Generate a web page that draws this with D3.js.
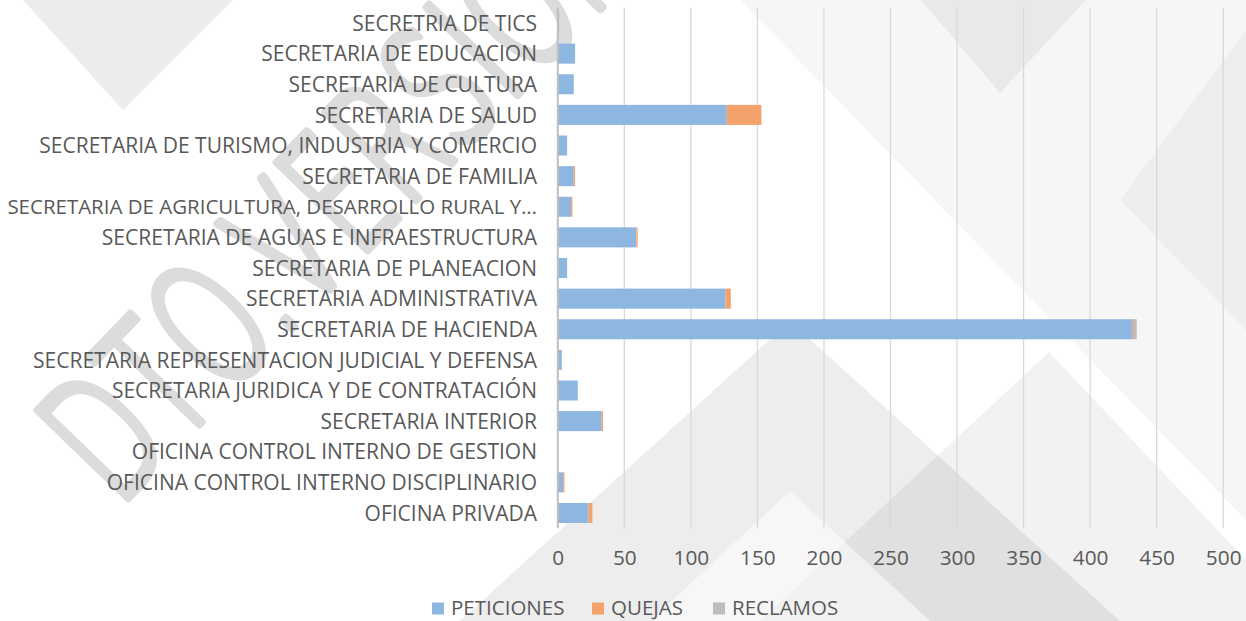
<!DOCTYPE html>
<html><head><meta charset="utf-8">
<script src="https://cdn.jsdelivr.net/npm/d3@7"></script>
<style>
html,body{margin:0;padding:0;background:#fff;}
svg{display:block;}
</style></head>
<body>
<svg id="chart" width="1246" height="621"></svg>
<script>
const categories = [
  "SECRETRIA DE TICS",
  "SECRETARIA DE EDUCACION",
  "SECRETARIA DE CULTURA",
  "SECRETARIA DE SALUD",
  "SECRETARIA DE TURISMO, INDUSTRIA Y COMERCIO",
  "SECRETARIA DE FAMILIA",
  "SECRETARIA DE AGRICULTURA, DESARROLLO RURAL Y…",
  "SECRETARIA DE AGUAS E INFRAESTRUCTURA",
  "SECRETARIA DE PLANEACION",
  "SECRETARIA ADMINISTRATIVA",
  "SECRETARIA DE HACIENDA",
  "SECRETARIA REPRESENTACION JUDICIAL Y DEFENSA",
  "SECRETARIA JURIDICA Y DE CONTRATACIÓN",
  "SECRETARIA INTERIOR",
  "OFICINA CONTROL INTERNO DE GESTION",
  "OFICINA CONTROL INTERNO DISCIPLINARIO",
  "OFICINA PRIVADA"
];
const peticiones = [1, 13, 12, 127, 7, 12, 10, 59, 7, 126, 432, 3, 15, 33, 0, 4, 23];
const quejas     = [0, 0, 0, 26, 0, 1, 1, 1, 0, 4, 1, 0, 0, 1, 0, 1, 3];
const reclamos   = [0, 0, 0, 0, 0, 0, 0, 0, 0, 0, 2, 0, 0, 0, 0, 0, 0];
const seriesNames = ["PETICIONES", "QUEJAS", "RECLAMOS"];
const seriesColors = ["#8DB6E1", "#F3A26C", "#BDBDBD"];
const xTicks = [0, 50, 100, 150, 200, 250, 300, 350, 400, 450, 500];

const svg = d3.select("#chart");
const FONT = "'Open Sans', 'Noto Sans', sans-serif";
const TXT = "#595959";

// decorative watermark background
const bg = svg.append("g");
const shapes = [
  {pts:[[23,0],[233,0],[123,110]], f:"#000", o:0.075},
  {pts:[[740,0],[1246,0],[1246,520]], f:"#000", o:0.035},
  {pts:[[921,0],[1086,0],[1000,93]], f:"#000", o:0.05},
  {pts:[[1246,30],[1246,330],[1120,200]], f:"#000", o:0.03},
  {pts:[[790,321],[1120,621],[460,621]], f:"#000", o:0.07},
  {pts:[[1049,352],[1246,560],[1246,621],[760,621]], f:"#000", o:0.05},
  {pts:[[790,491],[930,621],[650,621]], f:"#fff", o:0.55}
];
bg.selectAll("polygon").data(shapes).join("polygon")
  .attr("points", d => d.pts.map(p => p.join(",")).join(" "))
  .attr("fill", d => d.f).attr("fill-opacity", d => d.o);
bg.append("text")
  .attr("transform", "translate(118,508) rotate(-46) scale(0.64,1)")
  .attr("font-family", "'DejaVu Sans', sans-serif")
  .attr("font-weight", 200)
  .attr("font-size", 172)
  .attr("fill", "#dcdcdc")
  .attr("stroke", "#dcdcdc")
  .attr("stroke-width", 9)
  .attr("stroke-linejoin", "round")
  .text("DTO.VERSIÓN");

const x = d3.scaleLinear().domain([0, 500]).range([557.8, 1223.2]);
const y = d3.scaleBand().domain(categories).range([7.7, 528.3]).paddingInner(0.346).paddingOuter(0.173);

// gridlines
const grid = svg.append("g");
grid.selectAll("line").data(xTicks.slice(1)).join("line")
  .attr("x1", d => x(d)).attr("x2", d => x(d))
  .attr("y1", 7.7).attr("y2", 528.3)
  .attr("stroke", "#d9d9d9").attr("stroke-width", 1.3);

// stacked bars
const rows = categories.map((c, i) => ({cat: c, PETICIONES: peticiones[i], QUEJAS: quejas[i], RECLAMOS: reclamos[i]}));
const stack = d3.stack().keys(seriesNames)(rows);
svg.append("g").selectAll("g").data(stack).join("g")
  .attr("fill", (d, i) => seriesColors[i])
  .selectAll("rect").data(d => d).join("rect")
  .attr("x", d => x(d[0]))
  .attr("width", d => Math.max(0, x(d[1]) - x(d[0])))
  .attr("y", d => y(d.data.cat))
  .attr("height", y.bandwidth());

// zero axis line
svg.append("line").attr("x1", x(0)).attr("x2", x(0)).attr("y1", 7.7).attr("y2", 528.3)
  .attr("stroke", "#bfbfbf").attr("stroke-width", 2);

// x axis labels
const xAxis = d3.axisBottom(x).tickValues(xTicks).tickSize(0).tickPadding(0);
const gx = svg.append("g").attr("transform", "translate(0,548)").call(xAxis);
gx.select(".domain").remove();
gx.selectAll("text").attr("font-family", FONT).attr("font-size", 20.8).attr("fill", TXT).attr("dy", "0.8em");

// y axis labels
const yAxis = d3.axisLeft(y).tickSize(0).tickPadding(0);
const gy = svg.append("g").attr("transform", "translate(537,1)").call(yAxis);
gy.select(".domain").remove();
gy.selectAll("text").attr("font-family", FONT).attr("font-size", 21).attr("fill", TXT)
  .each(function() {
    const w = this.getComputedTextLength();
    if (w > 530) d3.select(this).attr("font-size", 21 * 530 / w);
  });

// legend
const legendX = [432, 592, 713];
const lg = svg.append("g");
seriesNames.forEach((s, i) => {
  lg.append("rect").attr("x", legendX[i]).attr("y", 602.5).attr("width", 12).attr("height", 12).attr("fill", seriesColors[i]);
  lg.append("text").attr("x", legendX[i] + 19).attr("y", 615)
    .attr("font-family", FONT).attr("font-size", 20.5).attr("fill", TXT).text(s);
});
</script>
</body></html>
